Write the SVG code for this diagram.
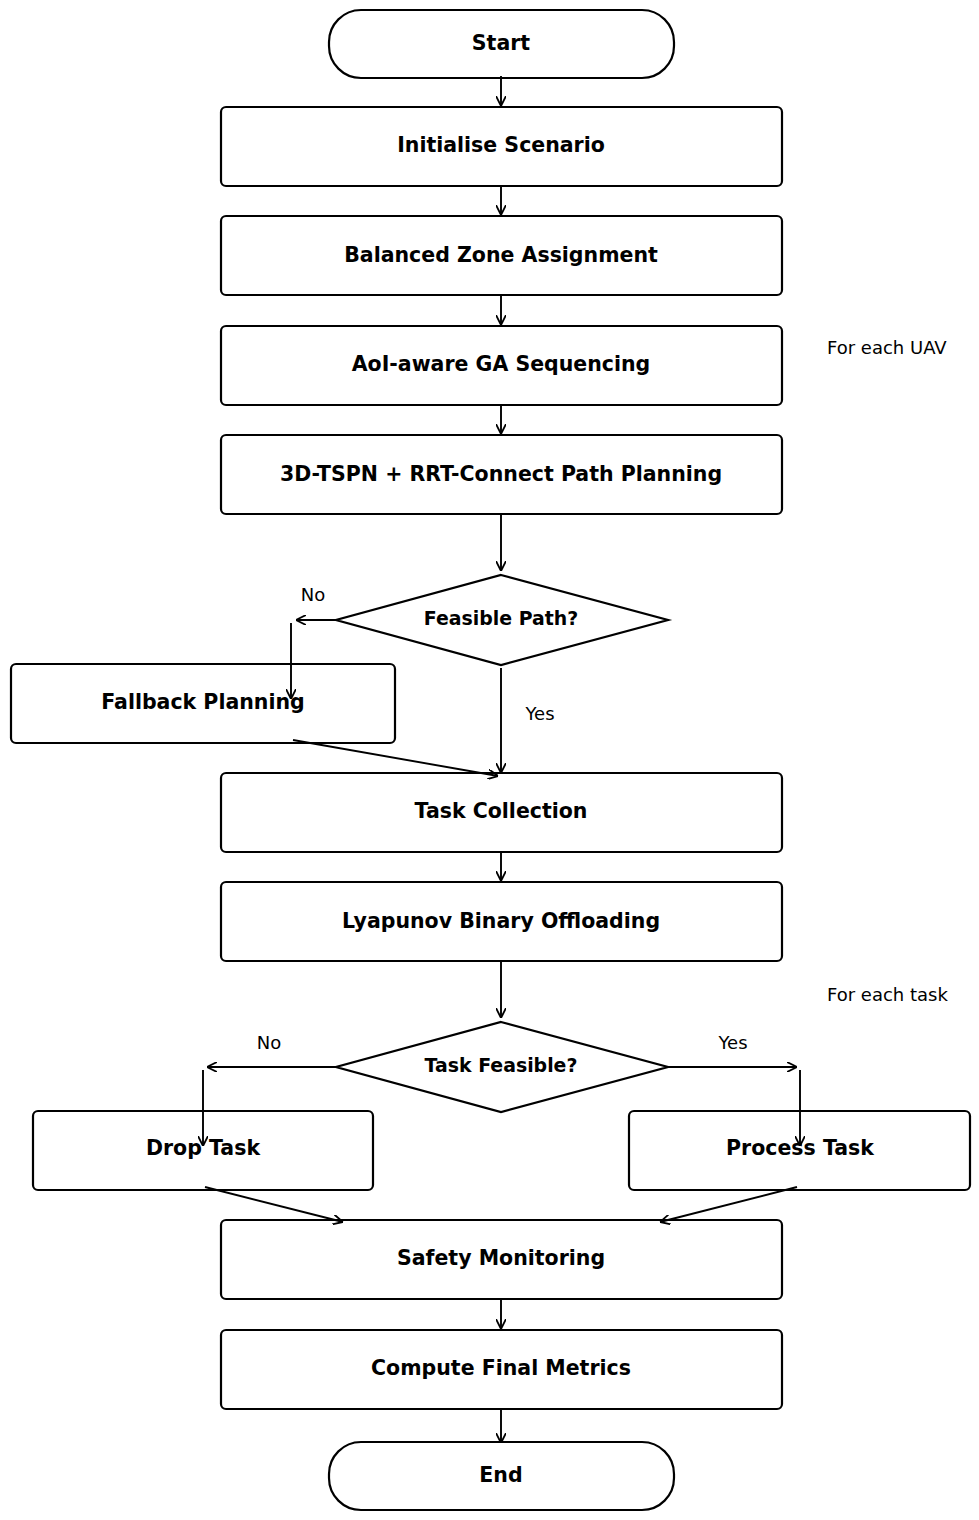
<svg xmlns="http://www.w3.org/2000/svg" width="979" height="1520" viewBox="0 0 979 1520">
<style>
.box{fill:#fff;stroke:#000;stroke-width:2.2}
.t{font-family:"DejaVu Sans",sans-serif;font-weight:bold;font-size:20.5px;text-anchor:middle;fill:#000}
.td{font-family:"DejaVu Sans",sans-serif;font-weight:bold;font-size:18.9px;text-anchor:middle;fill:#000}
.lb{font-family:"DejaVu Sans",sans-serif;font-size:18px;fill:#000}
.c{fill:none;stroke:#000;stroke-width:1.9;marker-end:url(#ah)}
</style>
<defs>
<marker id="ah" viewBox="0 0 10 10" refX="10" refY="5" markerWidth="10" markerHeight="10" markerUnits="userSpaceOnUse" orient="auto">
<path d="M0,0 L10,5 L0,10" fill="none" stroke="#000" stroke-width="1.8"/>
</marker>
</defs>
<rect width="979" height="1520" fill="#fff"/>
<g id="start"><rect class="box" x="329" y="10" width="345" height="68" rx="32"/><text class="t" x="501" y="50">Start</text></g>
<g id="init"><rect class="box" x="221" y="107" width="561" height="79" rx="5"/><text class="t" x="501" y="152">Initialise Scenario</text></g>
<g id="zone"><rect class="box" x="221" y="216" width="561" height="79" rx="5"/><text class="t" x="501" y="262">Balanced Zone Assignment</text></g>
<g id="ga"><rect class="box" x="221" y="326" width="561" height="79" rx="5"/><text class="t" x="501" y="371">AoI-aware GA Sequencing</text></g>
<g id="tspn"><rect class="box" x="221" y="435" width="561" height="79" rx="5"/><text class="t" x="501" y="481">3D-TSPN + RRT-Connect Path Planning</text></g>
<g id="feasible"><polygon class="box" points="501,575 668,620 501,665 336,620"/><text class="td" x="501" y="625">Feasible Path?</text></g>
<g id="fallback"><rect class="box" x="11" y="664" width="384" height="79" rx="5"/><text class="t" x="203" y="709">Fallback Planning</text></g>
<g id="collect"><rect class="box" x="221" y="773" width="561" height="79" rx="5"/><text class="t" x="501" y="818">Task Collection</text></g>
<g id="lyap"><rect class="box" x="221" y="882" width="561" height="79" rx="5"/><text class="t" x="501" y="928">Lyapunov Binary Offloading</text></g>
<g id="taskfeas"><polygon class="box" points="501,1022 668,1067 501,1112 336,1067"/><text class="td" x="501" y="1072">Task Feasible?</text></g>
<g id="drop"><rect class="box" x="33" y="1111" width="340" height="79" rx="5"/><text class="t" x="203" y="1155">Drop Task</text></g>
<g id="process"><rect class="box" x="629" y="1111" width="341" height="79" rx="5"/><text class="t" x="800" y="1155">Process Task</text></g>
<g id="safety"><rect class="box" x="221" y="1220" width="561" height="79" rx="5"/><text class="t" x="501" y="1265">Safety Monitoring</text></g>
<g id="metrics"><rect class="box" x="221" y="1330" width="561" height="79" rx="5"/><text class="t" x="501" y="1375">Compute Final Metrics</text></g>
<g id="end"><rect class="box" x="329" y="1442" width="345" height="68" rx="32"/><text class="t" x="501" y="1482">End</text></g>
<g id="connectors">
<path class="c" d="M501,76 L501,106"/>
<path class="c" d="M501,186 L501,215"/>
<path class="c" d="M501,295 L501,325"/>
<path class="c" d="M501,405 L501,434"/>
<path class="c" d="M501,514 L501,571"/>
<path class="c" d="M336,620 L296,620"/>
<path class="c" d="M291,623 L291,699"/>
<path class="c" d="M501,668 L501,773"/>
<path class="c" d="M293,740 L498,776"/>
<path class="c" d="M501,852 L501,881"/>
<path class="c" d="M501,961 L501,1018"/>
<path class="c" d="M336,1067 L207,1067"/>
<path class="c" d="M203,1070 L203,1146"/>
<path class="c" d="M668,1067 L797,1067"/>
<path class="c" d="M800,1070 L800,1146"/>
<path class="c" d="M205,1187 L343,1222"/>
<path class="c" d="M797,1187 L660,1222"/>
<path class="c" d="M501,1299 L501,1329"/>
<path class="c" d="M501,1409 L501,1443"/>
</g>
<g id="labels">
<text class="lb" x="313" y="601" text-anchor="middle">No</text>
<text class="lb" x="540" y="720" text-anchor="middle">Yes</text>
<text class="lb" x="827" y="354">For each UAV</text>
<text class="lb" x="827" y="1001">For each task</text>
<text class="lb" x="269" y="1049" text-anchor="middle">No</text>
<text class="lb" x="733" y="1049" text-anchor="middle">Yes</text>
</g>
</svg>
